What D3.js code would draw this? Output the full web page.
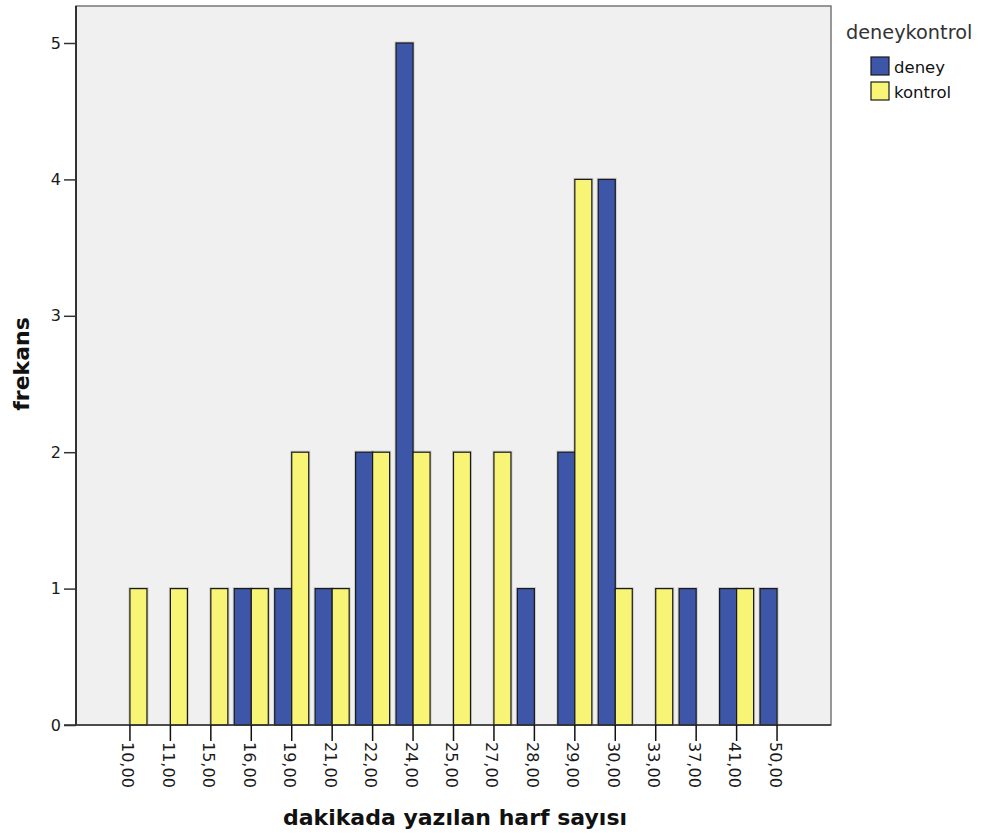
<!DOCTYPE html>
<html>
<head>
<meta charset="utf-8">
<script src="https://cdn.jsdelivr.net/npm/d3@7"></script>
<style>
  html, body { margin: 0; padding: 0; background: #fff; }
  svg { display: block; font-family: "DejaVu Sans", sans-serif; }
</style>
</head>
<body>
<svg id="chart" width="983" height="836"></svg>
<script>
const categories = ["10,00","11,00","15,00","16,00","19,00","21,00","22,00","24,00","25,00","27,00","28,00","29,00","30,00","33,00","37,00","41,00","50,00"];
const deney   = [0,0,0,1,1,1,2,5,0,0,1,2,4,0,1,1,1];
const kontrol = [1,1,1,1,2,1,2,2,2,2,0,4,1,1,0,1,0];
const yTicks = [0,1,2,3,4,5];
const seriesNames = ["deney","kontrol"];
const seriesColors = ["#3d56a8","#f8f476"];
const legendTitle = "deneykontrol";
const xTitle = "dakikada yazılan harf sayısı";
const yTitle = "frekans";

(function () {
const svg = d3.select("#chart");
const pLeft = 76, pRight = 831, pTop = 6, pBottom = 725;

const x = d3.scaleBand().domain(categories).range([pLeft, pRight]).paddingInner(0).paddingOuter(0.834);
const y = d3.scaleLinear().domain([0,5]).range([pBottom, 43]);
const barW = 17;

// plot background/frame
svg.append("rect").attr("x", pLeft).attr("y", pTop).attr("width", pRight-pLeft).attr("height", pBottom-pTop)
  .attr("fill", "#f0f0f0").attr("stroke", "#777").attr("stroke-width", 1.5);

const data = [];
categories.forEach((c,i) => {
  data.push({c, s:0, v:deney[i]});
  data.push({c, s:1, v:kontrol[i]});
});
const bars = data.filter(d => d.v > 0);
const cx = c => x(c) + x.bandwidth()/2;
const bx = d => d.s === 0 ? cx(d.c) - barW : cx(d.c);

// soft shadow
svg.append("g").selectAll("rect").data(bars).join("rect")
  .attr("x", d => bx(d) - 1.5).attr("y", d => y(d.v) - 1.5)
  .attr("width", barW + 3).attr("height", d => y(0) - y(d.v) + 1.5)
  .attr("fill", "#999").attr("opacity", 0.45);

svg.append("g").selectAll("rect").data(bars).join("rect")
  .attr("x", d => bx(d)).attr("y", d => y(d.v))
  .attr("width", barW).attr("height", d => y(0) - y(d.v))
  .attr("fill", d => seriesColors[d.s]).attr("stroke", "#1a1a1a").attr("stroke-width", 1.2);

// y axis
const yAxis = svg.append("g").attr("transform", `translate(${pLeft},0)`)
  .call(d3.axisLeft(y).tickValues(yTicks).tickFormat(d3.format("d")).tickSize(12).tickPadding(3));
yAxis.select(".domain").attr("stroke", "#111").attr("stroke-width", 1.5).attr("d", `M0,${pTop}V${pBottom}`);
yAxis.selectAll(".tick line").attr("stroke", "#333").attr("stroke-width", 1.5);
yAxis.selectAll(".tick text").attr("font-size", 16).attr("fill", "#1a1a1a").attr("font-family", "DejaVu Sans");

// x axis
const xAxis = svg.append("g").attr("transform", `translate(0,${pBottom})`)
  .call(d3.axisBottom(x).tickSize(16).tickPadding(0));
xAxis.select(".domain").attr("stroke", "#333").attr("stroke-width", 1.5).attr("d", `M${pLeft-12},0H${pRight}`);
xAxis.selectAll(".tick line").attr("stroke", "#111").attr("stroke-width", 1.5);
xAxis.selectAll(".tick text")
  .attr("font-size", 16).attr("fill", "#1a1a1a").attr("font-family", "DejaVu Sans")
  .attr("text-anchor", "start").attr("dominant-baseline", "central")
  .attr("y", 0).attr("dy", null)
  .attr("transform", "translate(-2,17) rotate(90)");

// axis titles
svg.append("text").attr("x", 455).attr("y", 825).attr("text-anchor", "middle")
  .attr("font-size", 22).attr("font-weight", "bold").attr("fill", "#111").text(xTitle);
svg.append("text").attr("transform", "translate(29,364) rotate(-90)").attr("text-anchor", "middle")
  .attr("font-size", 22).attr("font-weight", "bold").attr("fill", "#111").text(yTitle);

// legend
svg.append("text").attr("x", 846).attr("y", 39).attr("font-size", 19.3).attr("fill", "#333").text(legendTitle);
const lg = svg.append("g").selectAll("g").data(seriesNames).join("g")
  .attr("transform", (d,i) => `translate(871,${57 + i*25})`);
lg.append("rect").attr("width", 18).attr("height", 18)
  .attr("fill", (d,i) => seriesColors[i]).attr("stroke", "#1a1a1a").attr("stroke-width", 1.2);
lg.append("text").attr("x", 23).attr("y", 10).attr("dominant-baseline", "central")
  .attr("font-size", 16.5).attr("fill", "#111").text(d => d);
})();
</script>
</body>
</html>
